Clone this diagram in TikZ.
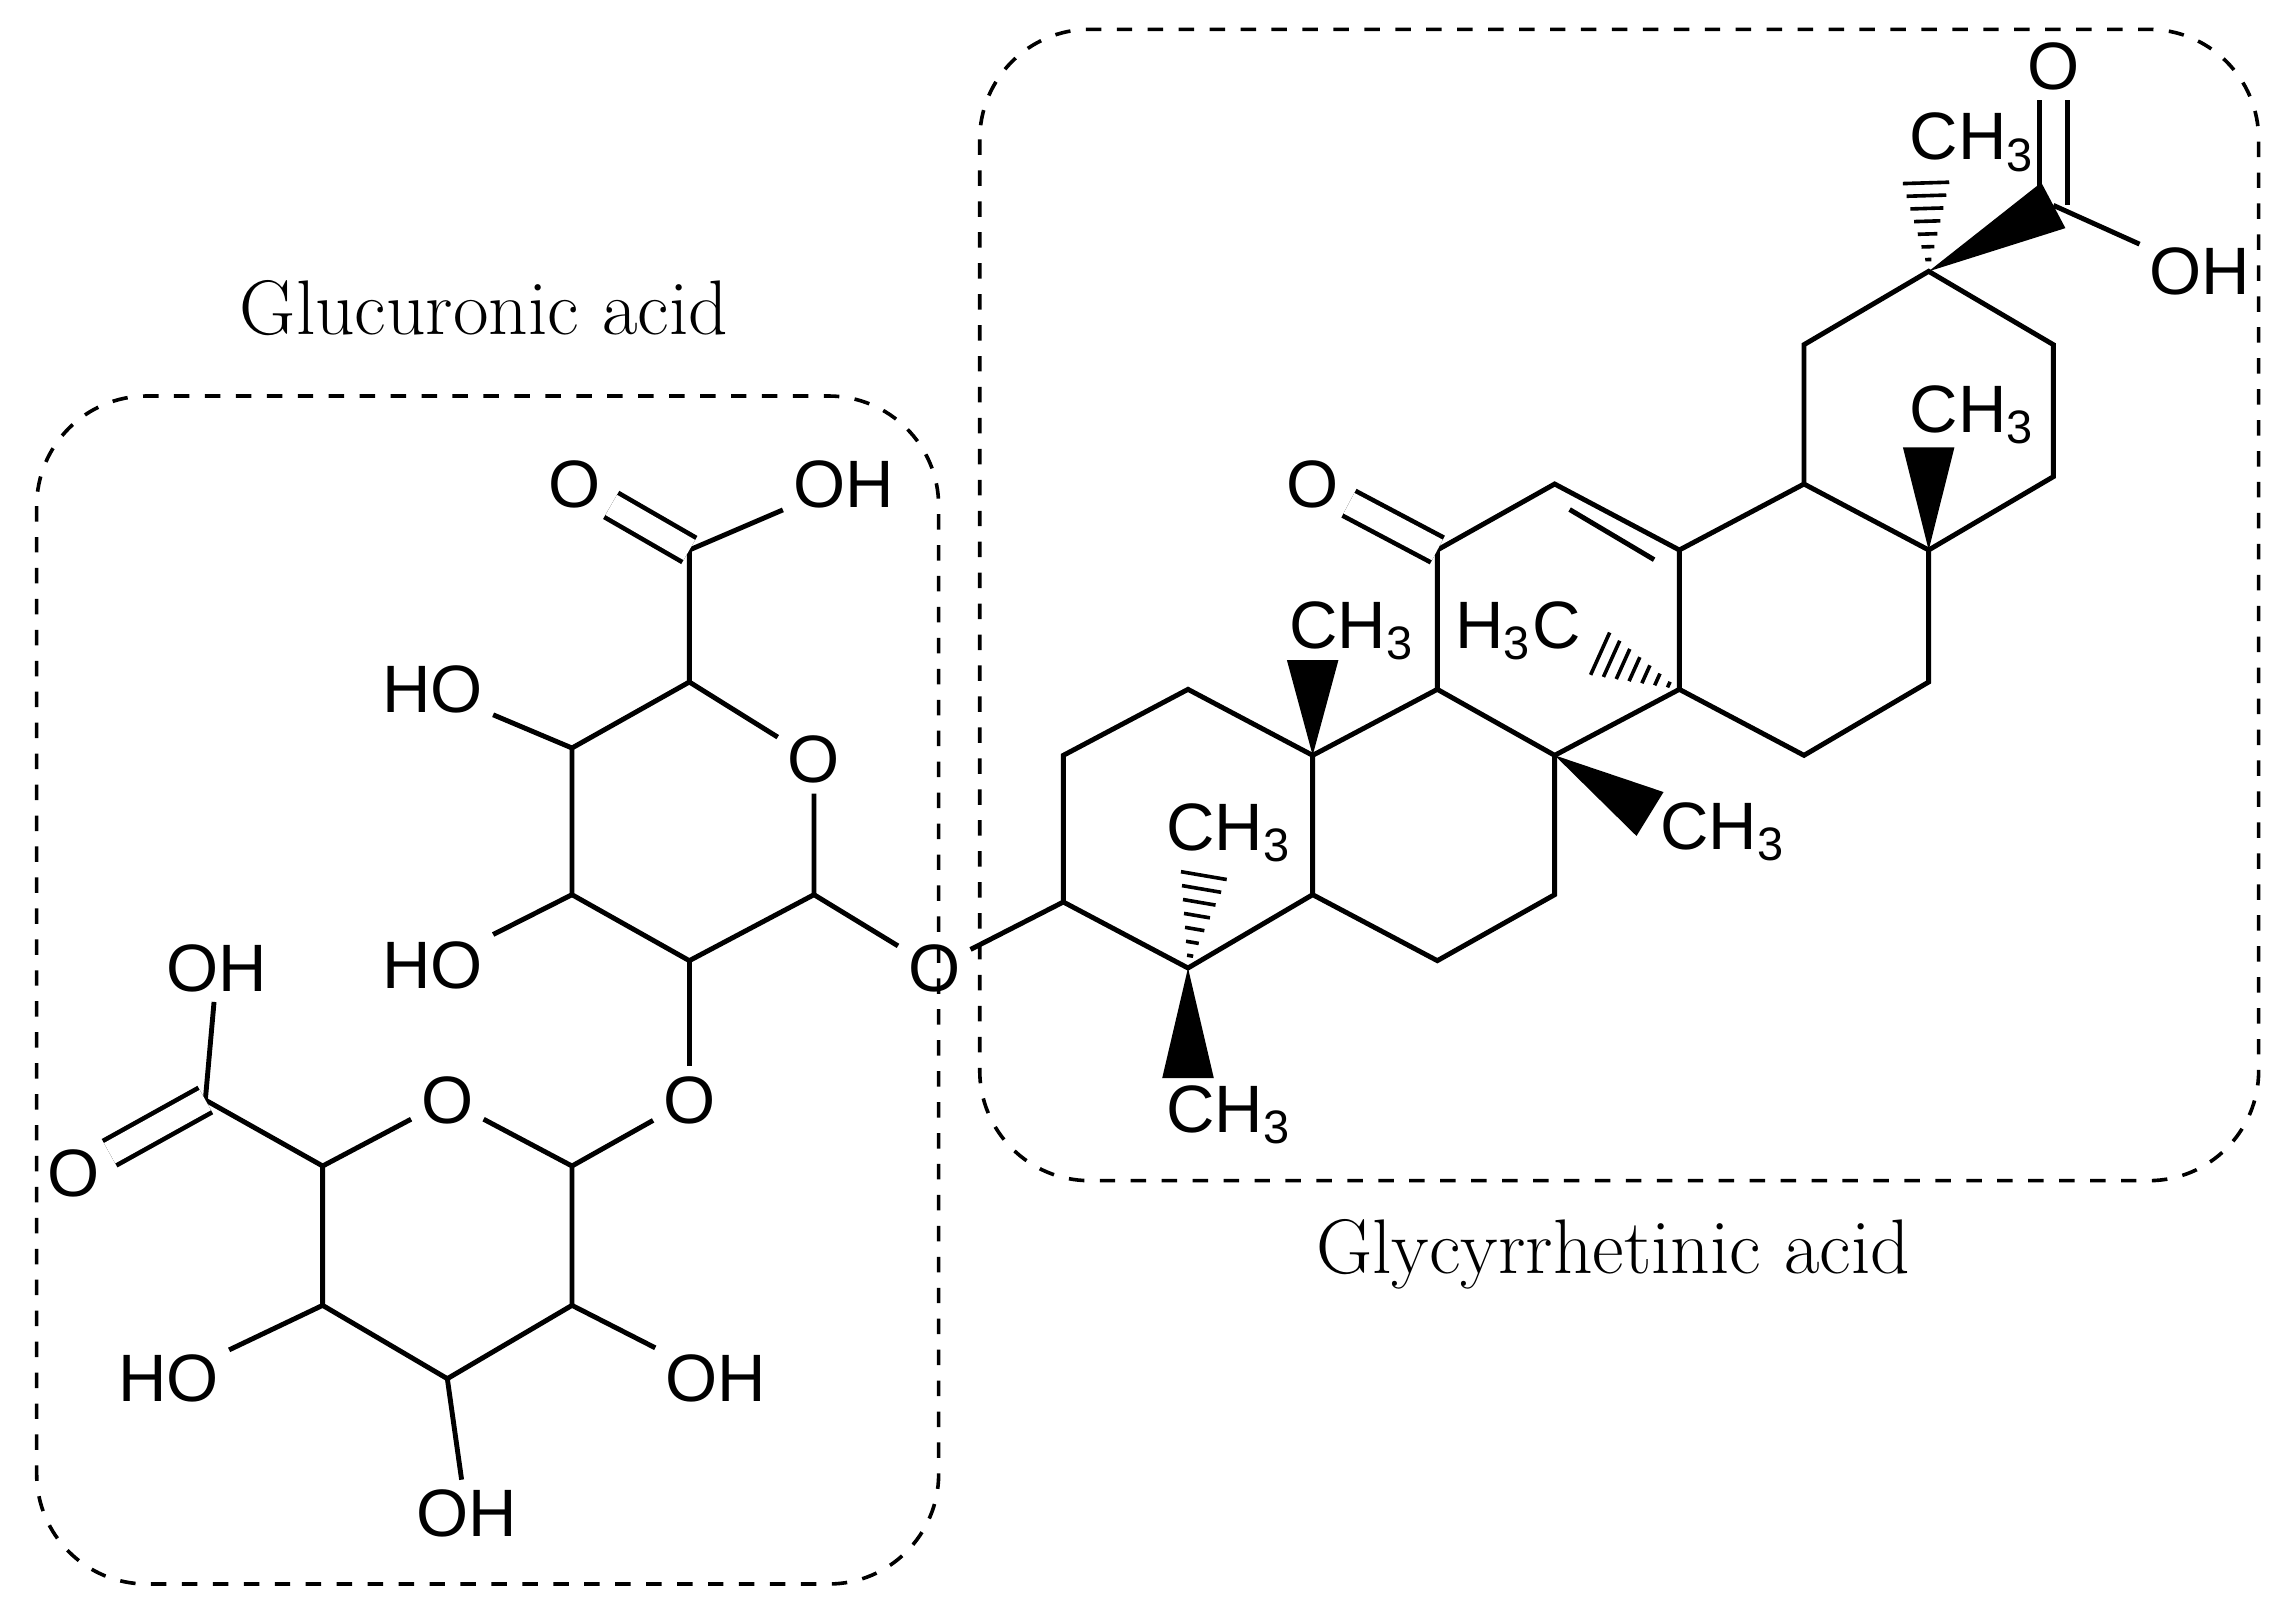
\documentclass[tikz,border=0pt]{standalone}
\usepackage{fontspec}
\setsansfont{Liberation Sans}
\usetikzlibrary{calc}
\begin{document}
\begin{tikzpicture}[x=0.01cm,y=-0.01cm,line width=0.95pt,
  atm/.style={font=\sffamily\fontsize{13}{15}\selectfont,inner sep=1.5pt},
  ttl/.style={font=\rmfamily\fontsize{15}{17}\selectfont},
  box/.style={dashed,line width=0.7pt,rounded corners=0.75cm},
  dbl/.style={double,double distance=4.5pt,line width=0.9pt}]
\useasboundingbox (0,0) rectangle (1560,1100);
\draw[box] (25,270) rectangle (640,1080);
\draw[box] (668,20) rectangle (1540,805);
\node[ttl] (t1) at (330,210) {Glucuronic acid};
\node[ttl] (t2) at (1100,855) {Glycyrrhetinic acid};
% upper sugar
\coordinate (u6) at (470,375); \coordinate (u5) at (470,465);
\node[atm] (uo) at (555,518) {O};
\coordinate (u1) at (555,610); \coordinate (u2) at (470,655);
\coordinate (u3) at (390,610); \coordinate (u4) at (390,510);
\node[atm] (uco) at (392,330) {O}; \node[atm] (uoh) at (575,330) {OH};
\node[atm] (u4oh) at (295,470) {HO}; \node[atm] (u3oh) at (295,658) {HO};
\node[atm] (og) at (637,660) {O};
\node[atm] (o2) at (470,750) {O};
\draw (u6)--(u5)--(uo)--(u1)--(u2)--(u3)--(u4)--(u5);
\draw (u6)--(uoh); \draw[dbl] (u6)--(uco);
\draw (u4)--(u4oh); \draw (u3)--(u3oh); \draw (u1)--(og); \draw (u2)--(o2);
% lower sugar
\coordinate (l1) at (390,795); \node[atm] (lo) at (305,750) {O};
\coordinate (l5) at (220,795); \coordinate (l6) at (140,750);
\coordinate (l4) at (220,890); \coordinate (l3) at (305,940); \coordinate (l2) at (390,890);
\node[atm] (loh) at (148,660) {OH}; \node[atm] (lco) at (50,800) {O};
\node[atm] (l4oh) at (115,940) {HO}; \node[atm] (l3oh) at (318,1032) {OH};
\node[atm] (l2oh) at (488,940) {OH};
\draw (o2)--(l1)--(lo)--(l5)--(l4)--(l3)--(l2)--(l1);
\draw (l5)--(l6)--(loh); \draw[dbl] (l6)--(lco);
\draw (l4)--(l4oh); \draw (l3)--(l3oh); \draw (l2)--(l2oh);
% aglycone
\coordinate (a3) at (725,615); \coordinate (a2) at (725,515); \coordinate (a1) at (810,470);
\coordinate (a10) at (895,515); \coordinate (a5) at (895,610); \coordinate (a4) at (810,660);
\coordinate (a6) at (980,655); \coordinate (a7) at (1060,610); \coordinate (a8) at (1060,515);
\coordinate (a9) at (980,470); \coordinate (a11) at (980,375); \coordinate (a12) at (1060,330);
\coordinate (a13) at (1145,375); \coordinate (a14) at (1145,470);
\coordinate (a18) at (1230,330); \coordinate (a17) at (1315,375); \coordinate (a16) at (1315,465);
\coordinate (a15) at (1230,515); \coordinate (a19) at (1230,235); \coordinate (a20) at (1315,185);
\coordinate (a21) at (1400,235); \coordinate (a22) at (1400,325); \coordinate (a30) at (1400,140);
\draw (og)--(a3)--(a2)--(a1)--(a10)--(a5)--(a4)--(a3);
\draw (a5)--(a6)--(a7)--(a8)--(a9)--(a10);
\draw (a9)--(a11)--(a12)--(a13)--(a14)--(a8);
\draw ($(a12)!0.12!(a13)+(0,12)$) -- ($(a13)!0.12!(a12)+(-7,12)$);
\draw (a13)--(a18)--(a17)--(a16)--(a15)--(a14);
\draw (a18)--(a19)--(a20)--(a21)--(a22)--(a17);
\node[atm] (ko) at (895,330) {O}; \draw[dbl] (a11)--(ko);
\node[atm] (co) at (1400,45) {O}; \node[atm] (coh) at (1500,185) {OH};
\draw[dbl] (a30)--(co); \draw (a30)--(coh);
% substituent labels
\node[atm] (m4a) at (838,760) {CH\textsubscript{3}}; \coordinate (e4a) at (810,735);
\node[atm] (m4b) at (838,568) {CH\textsubscript{3}}; \coordinate (e4b) at (822,590);
\node[atm] (m10) at (922,430) {CH\textsubscript{3}}; \coordinate (e10) at (895,450);
\node[atm] (m8) at (1175,567) {CH\textsubscript{3}}; \coordinate (e8) at (1125,555);
\node[atm] (m14) at (1035,430) {H\textsubscript{3}C}; \coordinate (e14) at (1085,443);
\node[atm] (m17) at (1345,283) {CH\textsubscript{3}}; \coordinate (e17) at (1315,305);
\node[atm] (m20) at (1345,97) {CH\textsubscript{3}}; \coordinate (e20) at (1313,118);
\foreach \a/\b in {a4/e4a,a10/e10,a8/e8,a17/e17,a20/a30}
  \fill (\a) -- ($(\b)!5pt!90:(\a)$) -- ($(\b)!5pt!-90:(\a)$) -- cycle;
\foreach \a/\b in {a4/e4b,a14/e14,a20/e20}
  \foreach \t in {0.12,0.25,...,1.0}
    \draw[line width=0.7pt] ($(\a)!\t!(\b)!{\t*5pt}!90:(\b)$) -- ($(\a)!\t!(\b)!{\t*5pt}!-90:(\b)$);
\end{tikzpicture}
\end{document}
